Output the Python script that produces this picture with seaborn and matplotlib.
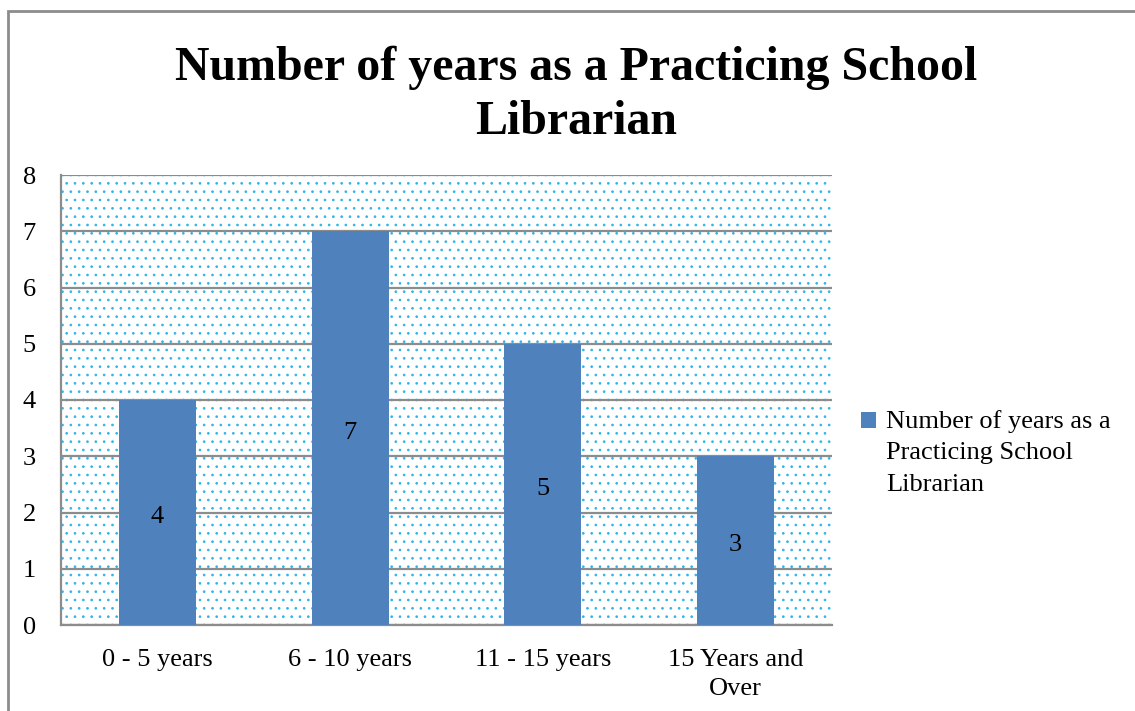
import matplotlib
matplotlib.use("Agg")
import matplotlib.pyplot as plt
import seaborn as sns
import pandas as pd
from matplotlib.patches import Rectangle

# Datos del gráfico
categories = ["0 - 5 years", "6 - 10 years", "11 - 15 years", "15 Years and\nOver"]
values = [4, 7, 5, 3]
series_name = "Number of years as a\nPracticing School\nLibrarian"
title = "Number of years as a Practicing School\nLibrarian"

bar_color = "#4F81BD"
dot_color = "#2FB5E8"
grid_color = "#8C8C8C"

sns.set_style("white")
plt.rcParams['font.family'] = ['Liberation Serif', 'DejaVu Serif']
plt.rcParams['text.color'] = 'black'
plt.rcParams['xtick.labelcolor'] = 'black'
plt.rcParams['ytick.labelcolor'] = 'black'
plt.rcParams['hatch.linewidth'] = 0.7

df = pd.DataFrame({'category': categories, 'value': values})

fig = plt.figure(figsize=(11.35, 7.11), dpi=100)
ax = fig.add_axes([61 / 1135, 1 - 625 / 711, (832 - 61) / 1135, (625 - 175) / 711])

# fondo punteado
ax.set_facecolor('white')
bg = Rectangle((0, 0), 1, 1, transform=ax.transAxes, facecolor='none',
               edgecolor=dot_color, hatch='..', linewidth=0, zorder=0)
ax.add_patch(bg)

sns.barplot(data=df, x='category', y='value', color=bar_color, width=0.4,
            saturation=1, ax=ax, zorder=3, linewidth=0, label=series_name)

ax.bar_label(ax.containers[0], label_type='center', fontsize=19, color='black',
             padding=-3.5)

ax.set_ylim(0, 8)
ax.set_xlim(-0.5, 3.5)
ax.set_yticks(range(0, 9))
ax.yaxis.grid(True, color=grid_color, linewidth=1.6, zorder=1)
for gl in ax.get_ygridlines():
    gl.set_zorder(1)

ax.set_xlabel('')
ax.set_ylabel('')
ax.set_xticks([-0.5, 0.5, 1.5, 2.5, 3.5], minor=True)
ax.set_xticks(range(len(categories)))
ax.set_xticklabels(categories, fontsize=19)
for t in ax.get_xticklabels():
    t.set_linespacing(1.4)
ax.tick_params(axis='x', which='major', length=0, pad=17.5)
ax.tick_params(axis='x', which='minor', length=7, width=1.6, color=grid_color, direction='out')
ax.tick_params(axis='y', length=7, width=1.6, color=grid_color, direction='out', labelsize=19, pad=11)

for s in ['top', 'right']:
    ax.spines[s].set_visible(False)
for s in ['left', 'bottom']:
    ax.spines[s].set_color(grid_color)
    ax.spines[s].set_linewidth(1.6)

fig.text(0.508, 0.867, title, ha='center', va='center', fontsize=34.5,
         fontweight='bold', linespacing=1.3)

leg = ax.legend(loc='center left', bbox_to_anchor=(861 / 1135, 1 - 453 / 711),
                bbox_transform=fig.transFigure, frameon=False, fontsize=19,
                handlelength=0.55, handleheight=0.55, handletextpad=0.4,
                borderpad=0, borderaxespad=0)
leg.get_texts()[0].set_linespacing(1.55)
# el cuadro de la leyenda va alineado con la primera línea
h = leg.legend_handles[0]
h.set_y(h.get_y() + 23)

# marco exterior
frame = Rectangle((8 / 1135, -0.1), 1.2, 1.1 - 11 / 711, transform=fig.transFigure,
                  facecolor='none', edgecolor='#8C8C8C', linewidth=2)
fig.add_artist(frame)

fig.savefig('out.png', dpi=100)
